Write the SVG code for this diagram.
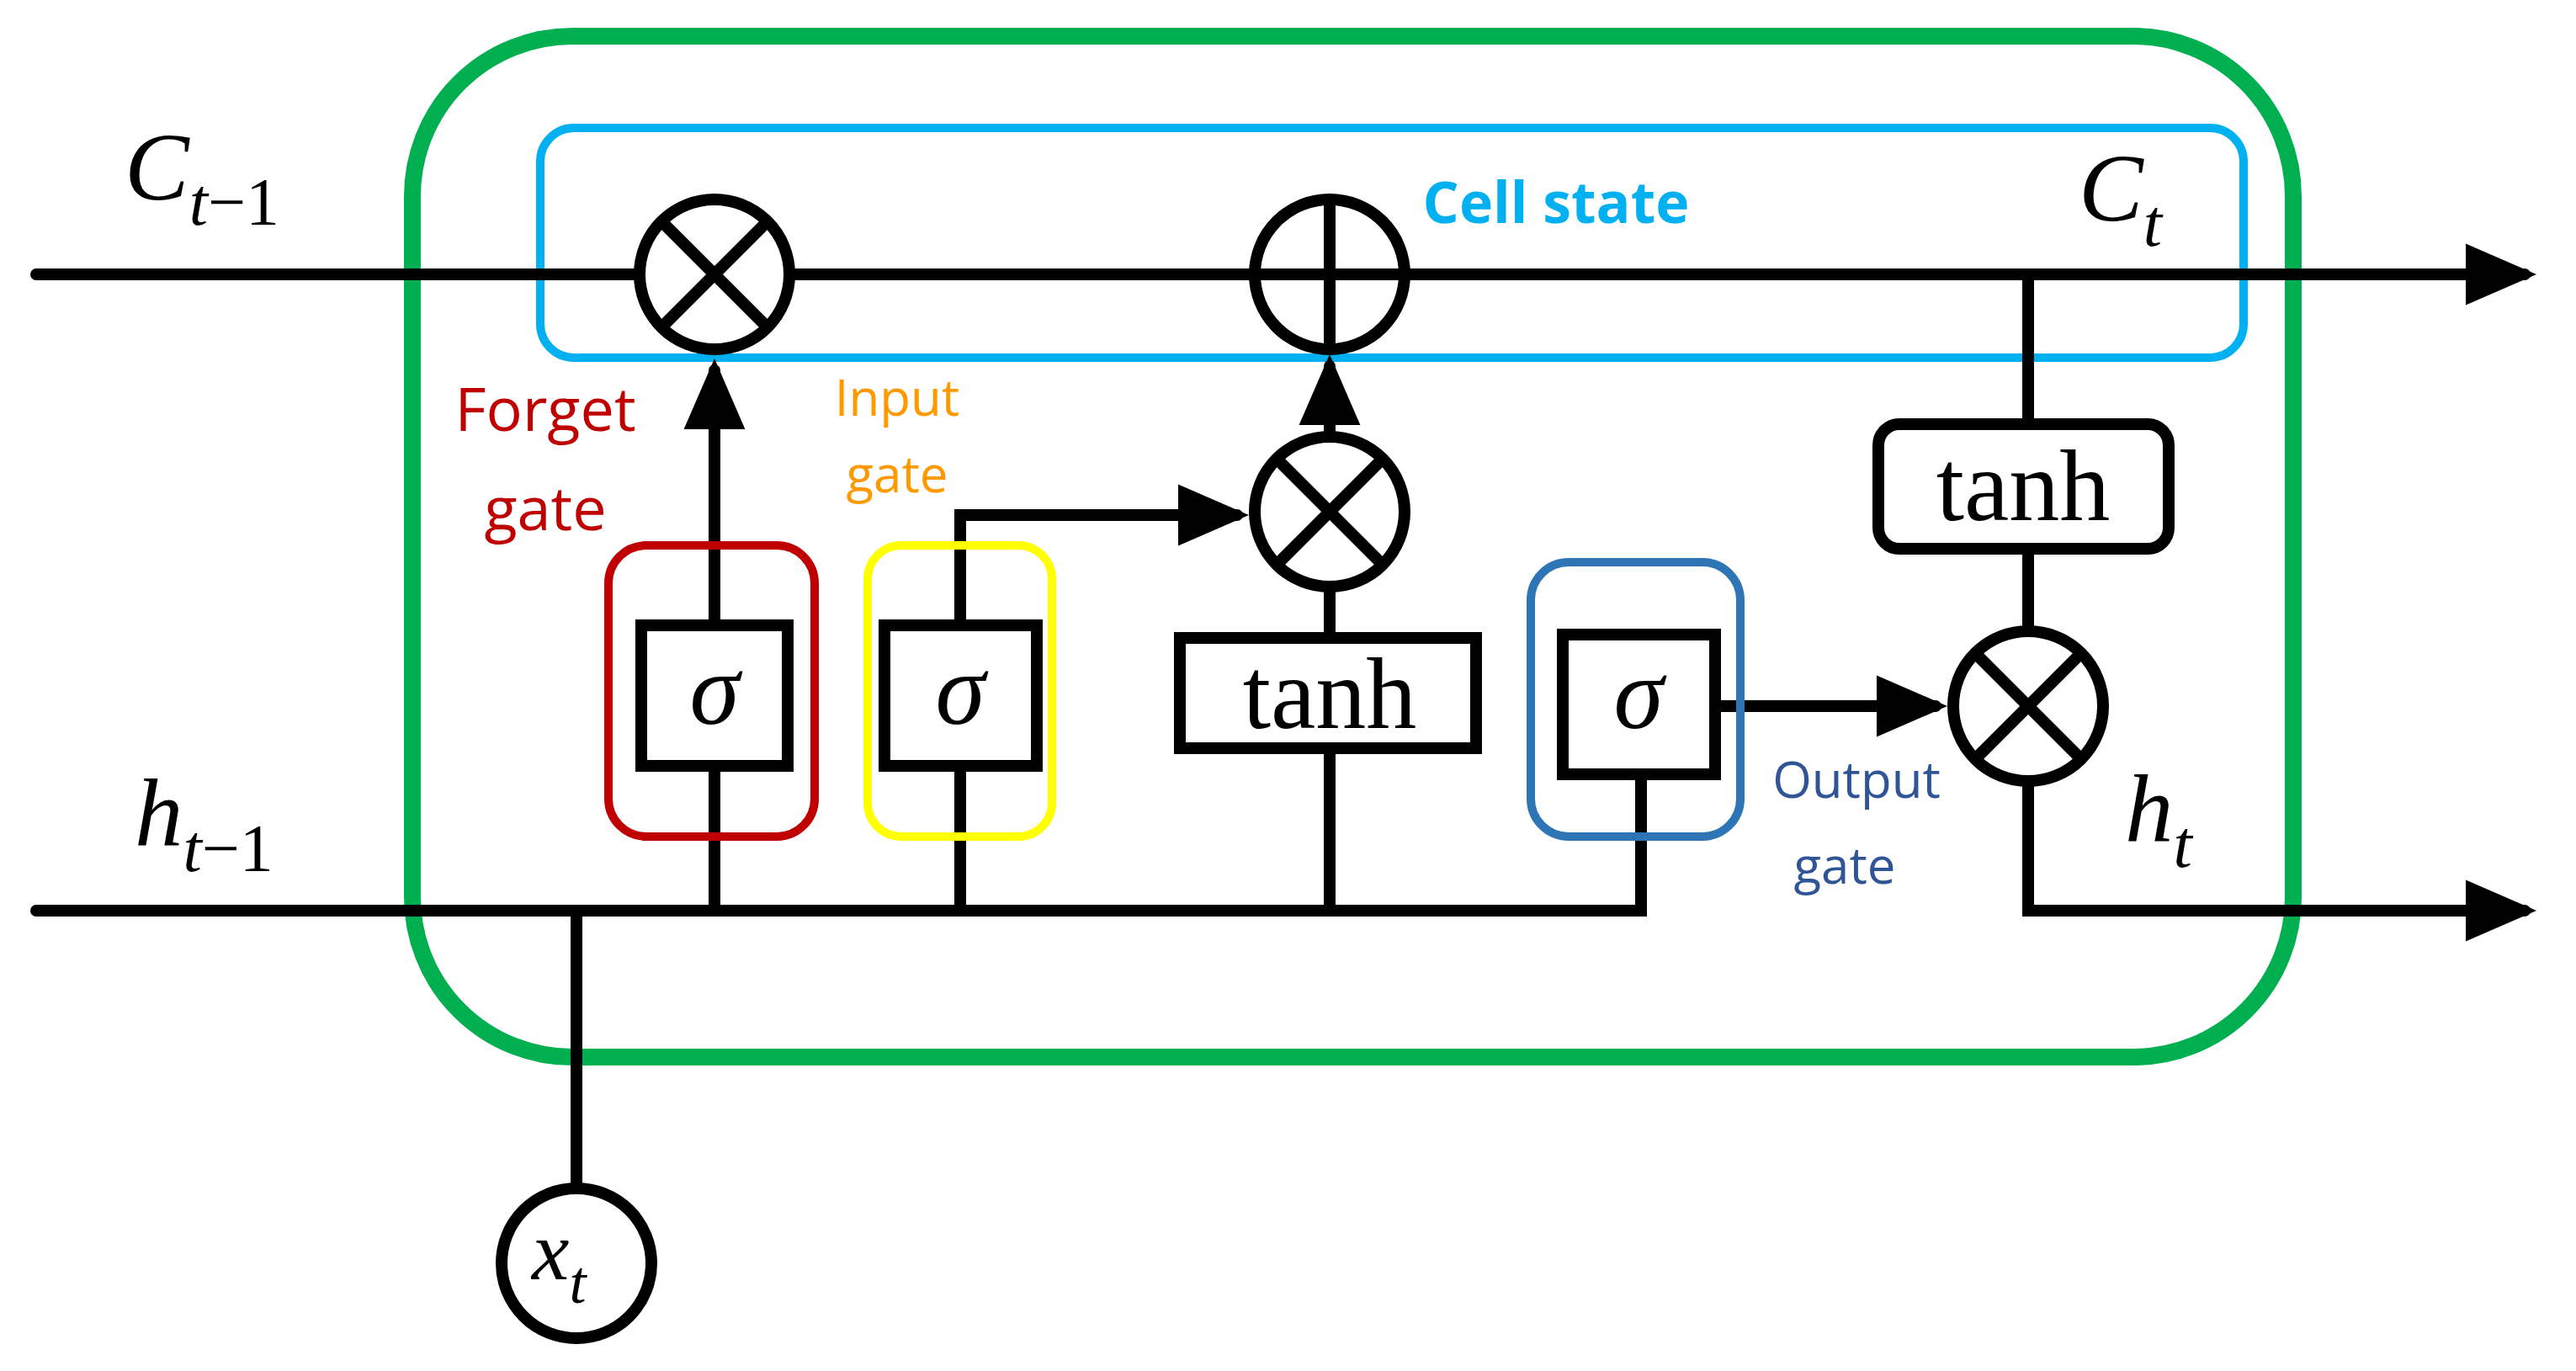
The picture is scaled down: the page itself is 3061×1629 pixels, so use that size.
<svg xmlns="http://www.w3.org/2000/svg" width="3061" height="1629" viewBox="0 0 3061 1629">
<style>
.w{fill:none;stroke:#000;stroke-width:14;stroke-linecap:round}
.b{fill:#fff;stroke:#000;stroke-width:14}
.m{font-family:"Liberation Serif",serif;font-style:italic;fill:#000}
.t{font-family:"Liberation Serif",serif;fill:#000;text-anchor:middle}
.l{font-family:"Open Sans","Liberation Sans",sans-serif;text-anchor:middle}
</style>
<defs>
<marker id="a" markerWidth="6" markerHeight="6" refX="5" refY="3" orient="auto" markerUnits="strokeWidth"><path d="M0,0.4 L6,3 L0,5.6z" fill="#000"/></marker>
</defs>
<rect fill="#fff" width="3061" height="1629"/>
<rect x="490" y="43" width="2235" height="1213" rx="190" fill="none" stroke="#00B050" stroke-width="20"/>
<rect x="642" y="152" width="2024" height="273" rx="40" fill="none" stroke="#00B0F0" stroke-width="10"/>
<g id="connectors">
<path class="w" d="M43,326 H760"/>
<path class="w" d="M938,326 H1491"/>
<path class="w" d="M1669,326 H3000" marker-end="url(#a)"/>
<path class="w" d="M43,1082 H1950 V920"/>
<path class="w" d="M685,1082 V1412"/>
<path class="w" d="M849,1082 V440" marker-end="url(#a)"/>
<path class="w" d="M1141,1082 V612 H1470" marker-end="url(#a)"/>
<path class="w" d="M1580,1082 V889"/>
<path class="w" d="M1580,758 V697"/>
<path class="w" d="M1580,519 V435" marker-end="url(#a)"/>
<path class="w" d="M2038,839 H2300" marker-end="url(#a)"/>
<path class="w" d="M2410,326 V504"/>
<path class="w" d="M2410,652 V750"/>
<path class="w" d="M2410,928 V1082 H3000" marker-end="url(#a)"/>
</g>
<g id="forget">
<rect x="723" y="648" width="245" height="346" rx="45" fill="none" stroke="#C00000" stroke-width="10"/>
<rect class="b" x="762" y="743" width="174" height="167"/>
<text class="t" x="849" y="860" font-size="120" font-style="italic">σ</text>
<text class="l" x="648" y="512" font-size="72" fill="#C00000">Forget</text>
<text class="l" x="648" y="630" font-size="72" fill="#C00000">gate</text>
</g>
<g id="input">
<rect x="1031" y="648" width="219" height="346" rx="40" fill="none" stroke="#FFFF00" stroke-width="10"/>
<rect class="b" x="1051" y="743" width="181" height="167"/>
<text class="t" x="1141" y="860" font-size="120" font-style="italic">σ</text>
<text class="l" x="1066" y="494" font-size="60" fill="#FF9900">Input</text>
<text class="l" x="1066" y="585" font-size="60" fill="#FF9900">gate</text>
</g>
<g id="tanh1"><rect class="b" x="1402" y="758" width="352" height="131"/><text class="t" x="1580" y="865" font-size="120">tanh</text></g>
<g id="output">
<rect x="1819" y="668" width="249" height="326" rx="45" fill="none" stroke="#2E75B6" stroke-width="10"/>
<rect class="b" x="1857" y="754" width="181" height="166"/>
<text class="t" x="1947" y="865" font-size="120" font-style="italic">σ</text>
<text class="l" x="2206" y="948" font-size="60" fill="#2F5597">Output</text>
<text class="l" x="2192" y="1050" font-size="60" fill="#2F5597">gate</text>
</g>
<g id="tanh2"><rect class="b" x="2232" y="504" width="345" height="148" rx="25"/><text class="t" x="2404" y="618" font-size="120">tanh</text></g>
<g id="mulF"><circle class="b" cx="849" cy="326" r="89"/><path class="w" d="M787,264 L911,388 M911,264 L787,388"/></g>
<g id="add"><circle class="b" cx="1580" cy="326" r="89"/><path class="w" d="M1580,237 V415 M1491,326 H1669"/></g>
<g id="mulI"><circle class="b" cx="1580" cy="608" r="89"/><path class="w" d="M1518,546 L1642,670 M1642,546 L1518,670"/></g>
<g id="mulO"><circle class="b" cx="2410" cy="839" r="89"/><path class="w" d="M2348,777 L2472,901 M2472,777 L2348,901"/></g>
<g id="xt"><circle class="b" cx="685" cy="1501" r="89"/><text class="m" x="632" y="1520" font-size="100">x<tspan font-size="72" dy="28">t</tspan></text></g>
<text class="l" x="1849" y="265" font-size="68" font-weight="bold" fill="#00B0F0">Cell state</text>
<text class="m" x="148" y="237" font-size="115">C<tspan font-size="80" dy="30">t</tspan><tspan font-style="normal" font-size="80">−1</tspan></text>
<text class="m" x="160" y="1005" font-size="115">h<tspan font-size="80" dy="30">t</tspan><tspan font-style="normal" font-size="80">−1</tspan></text>
<text class="m" x="2470" y="262" font-size="115">C<tspan font-size="80" dy="30">t</tspan></text>
<text class="m" x="2525" y="1000" font-size="115">h<tspan font-size="80" dy="30">t</tspan></text>
</svg>
